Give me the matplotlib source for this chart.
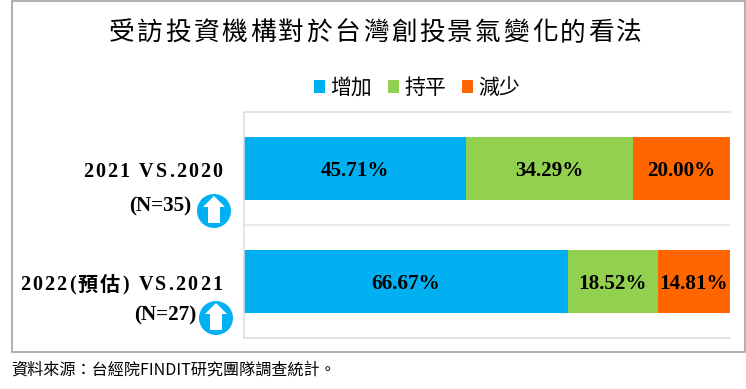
import numpy as np
import matplotlib
matplotlib.use("Agg")
import matplotlib.pyplot as plt
from matplotlib.patches import Rectangle, Circle, Polygon

W, H = 746, 389
CJK = ["Noto Sans CJK TC", "DejaVu Sans"]
SERIF = ["Liberation Serif", "Noto Sans CJK TC"]

title = "受訪投資機構對於台灣創投景氣變化的看法"
source = "資料來源：台經院FINDIT研究團隊調查統計。"
series_names = ["增加", "持平", "減少"]
colors = ["#00B0F0", "#92D050", "#FF6600"]
increase = [45.71, 66.67]
flat = [34.29, 18.52]
decrease = [20.00, 14.81]
cat_labels = ["2021 VS.2020", "2022(預估) VS.2021"]
n_labels = ["(N=35)", "(N=27)"]

plt.rcParams["font.family"] = CJK

fig = plt.figure(figsize=(W / 100, H / 100), dpi=100)


def to_fig_rect(x0, y0, x1, y1):
    return [x0 / W, 1 - y1 / H, (x1 - x0) / W, (y1 - y0) / H]


# overlay in pixel coords for frame, arrows, and text
over = fig.add_axes([0, 0, 1, 1], zorder=3)
over.set_xlim(0, W)
over.set_ylim(H, 0)
over.axis("off")
over.patch.set_alpha(0)
over.add_patch(Rectangle((11.5, 0.5), 733, 351.5, fc="none", ec="#9a9a9a", lw=1.1))

ax = fig.add_axes(to_fig_rect(243.5, 112.5, 730, 337.5), zorder=2)
rows = [0, 1]
left = np.zeros(2)
for name, vals, c in zip(series_names, [increase, flat, decrease], colors):
    vals = np.array(vals)
    bars = ax.barh(rows, vals, left=left, height=0.56, color=c, label=name)
    labels = ax.bar_label(bars, labels=[f"{v:.2f}%" for v in vals], label_type="center",
                          fontsize=15.2, fontweight="bold", family=SERIF, color="black")
    for t in labels:
        t.set_va("center_baseline")
    left += vals
ax.set_xlim(0, 100)
ax.set_ylim(1.5, -0.5)
ax.set_xticks([])
ax.set_yticks([])
ax.spines["right"].set_visible(False)
for s in ["top", "bottom", "left"]:
    ax.spines[s].set_color("#dcdcdc")
    ax.spines[s].set_linewidth(1.1)
ax.axhline(0.5, color="#e4e4e4", lw=1.1)

leg = ax.legend(loc="center", bbox_to_anchor=(417 / W, 1 - 88 / H), bbox_transform=fig.transFigure,
                ncol=3, frameon=False, fontsize=15, handlelength=0.55, handleheight=0.55,
                handletextpad=0.25, columnspacing=0.75, borderpad=0)


def spaced(x0, x1, y, text, **kw):
    # evenly spread the characters between x0 and x1, for the letter-spaced labels
    r = fig.canvas.get_renderer()
    parts = [over.text(0, y, ch, ha="left", va="center_baseline", **kw) for ch in text]
    widths = []
    for p in parts:
        if p.get_text() == " ":
            p.set_text("i")
            widths.append(p.get_window_extent(r).width)
            p.set_text(" ")
        else:
            widths.append(p.get_window_extent(r).width)
    gap = (x1 - x0 - sum(widths)) / max(len(text) - 1, 1)
    x = x0
    for p, w in zip(parts, widths):
        p.set_x(x)
        x += w + gap


spaced(109, 642, 30, title, fontsize=18.5, family=CJK, color="black")
spaced(83, 222, 169, cat_labels[0], fontsize=14.5, fontweight="bold", family=SERIF, color="black")
spaced(20, 222, 283, cat_labels[1], fontsize=14.5, fontweight="bold", family=SERIF, color="black")
over.text(191, 204, n_labels[0], ha="right", va="center_baseline", fontsize=15.2, fontweight="bold", family=SERIF)
over.text(196, 313, n_labels[1], ha="right", va="center_baseline", fontsize=15.2, fontweight="bold", family=SERIF)
over.text(11, 368, source, ha="left", va="center_baseline", fontsize=11.6, family=CJK, color="black")

for cx, cy in [(214, 211), (216, 318)]:
    over.add_patch(Circle((cx, cy), 17, fc="#00B0F0", ec="none"))
    shape = np.array([[0, -15], [11, -4], [6, -4], [6, 12], [-6, 12], [-6, -4], [-11, -4]])
    over.add_patch(Polygon(shape + [cx, cy], closed=True, fc="white", ec="none"))

fig.savefig("out.png", dpi=100)
